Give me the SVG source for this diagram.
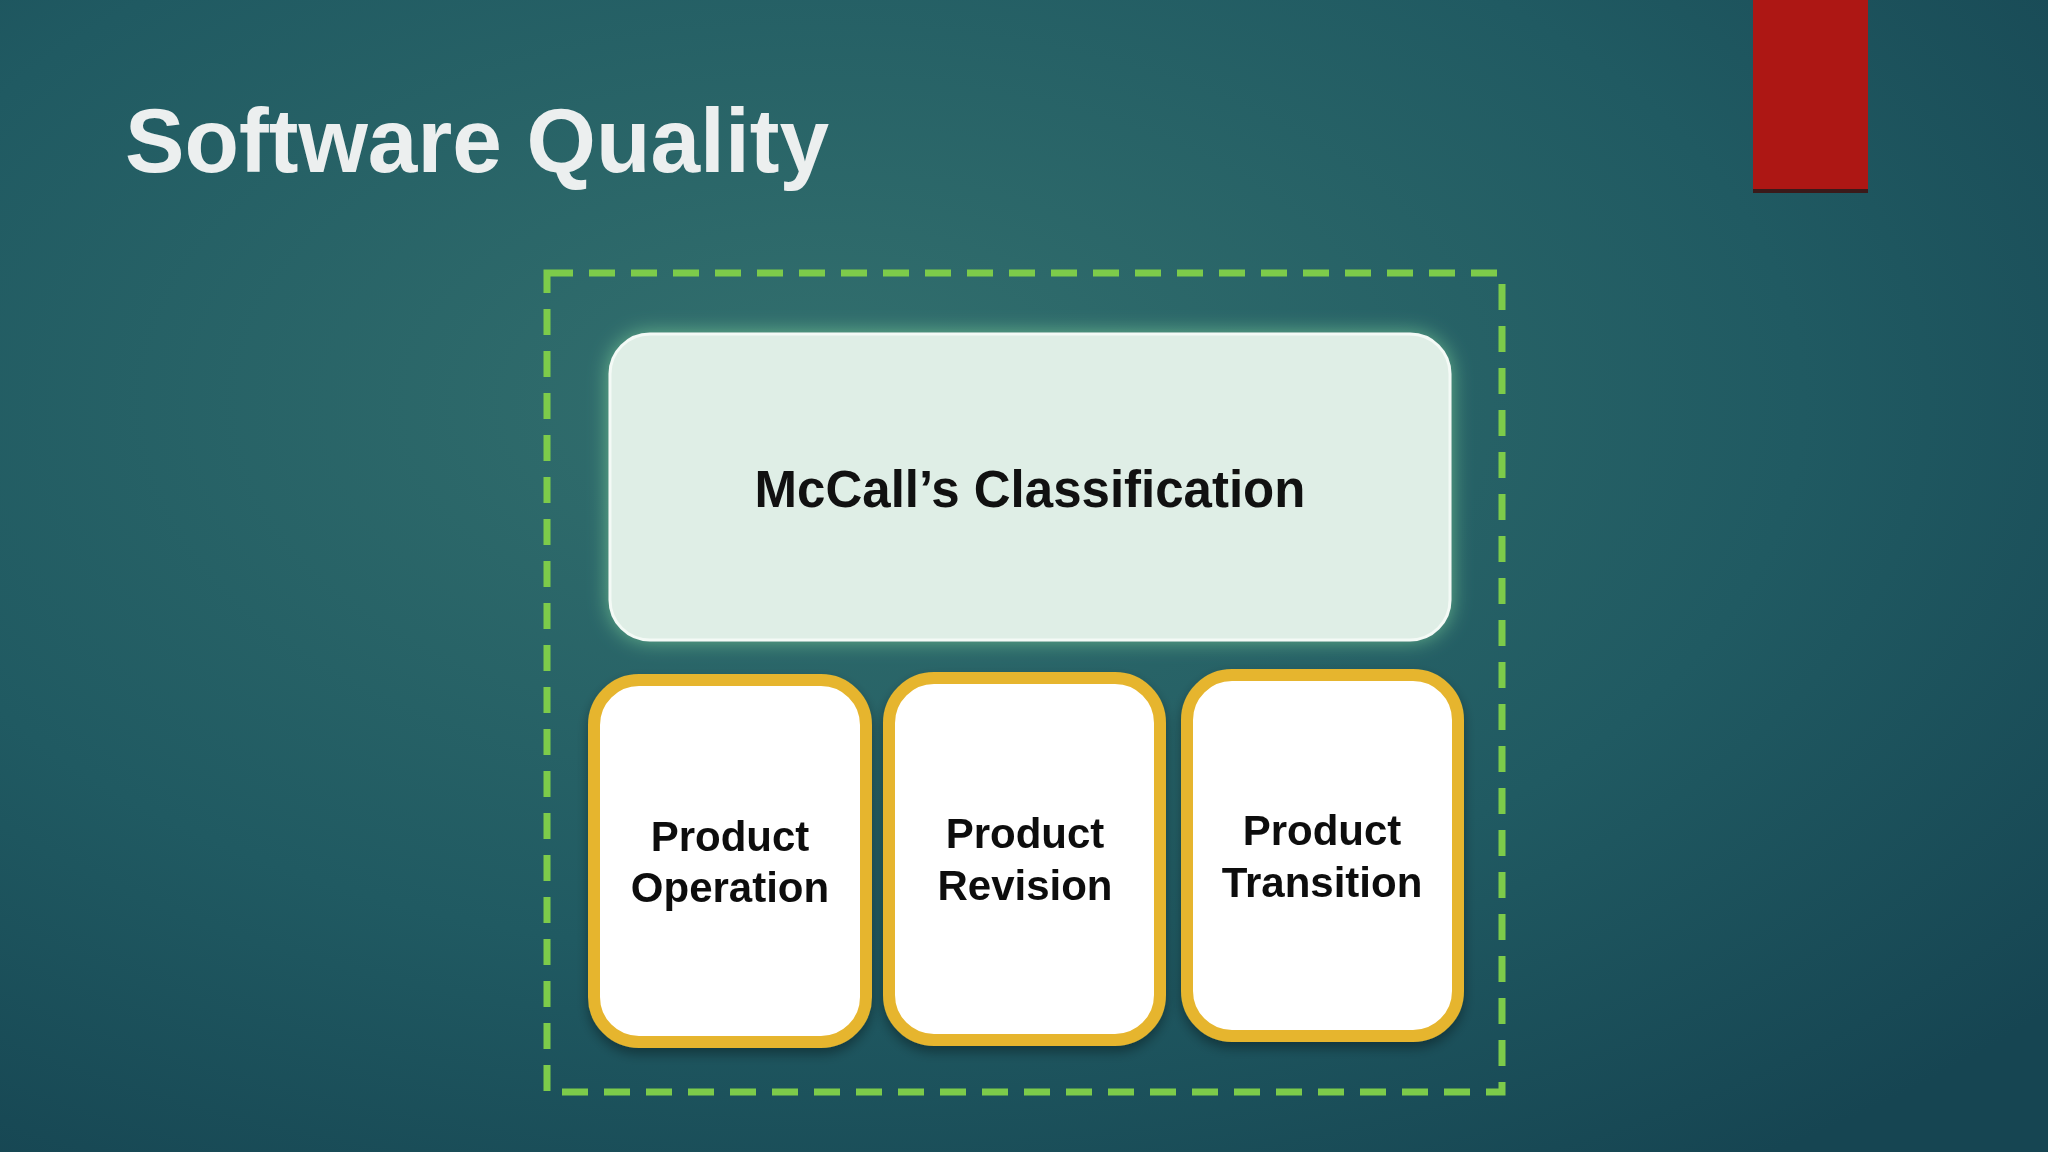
<svg xmlns="http://www.w3.org/2000/svg" width="2048" height="1152" viewBox="0 0 2048 1152">
<defs>
<radialGradient id="bg" cx="0.4" cy="0.35" r="0.8">
<stop offset="0" stop-color="#33706e"/>
<stop offset="0.6" stop-color="#205a62"/>
<stop offset="1" stop-color="#164552"/>
</radialGradient>
<filter id="glow" x="-10%" y="-15%" width="120%" height="130%">
<feGaussianBlur in="SourceAlpha" stdDeviation="10" result="b"/>
<feFlood flood-color="#7fd39a" flood-opacity="0.7"/>
<feComposite in2="b" operator="in"/>
<feMerge><feMergeNode/><feMergeNode in="SourceGraphic"/></feMerge>
</filter>
<filter id="sh" x="-10%" y="-10%" width="120%" height="130%">
<feDropShadow dx="0" dy="6" stdDeviation="6" flood-color="#000" flood-opacity="0.35"/>
</filter>
</defs>
<style>
.t{font-family:"Liberation Sans",Arial,sans-serif;font-weight:bold;fill:#111;text-anchor:middle}
.sub{fill:#fff;stroke:#e6b52e;stroke-width:12}
</style>
<rect width="2048" height="1152" fill="url(#bg)"/>
<rect x="1753" y="0" width="115" height="192" fill="#ad1714"/>
<rect x="1753" y="189" width="115" height="4" fill="#3a1a1a"/>
<text x="125" y="172" font-family="Liberation Sans,Arial,sans-serif" font-weight="bold" font-size="90" fill="#ecefef" textLength="704" lengthAdjust="spacingAndGlyphs">Software Quality</text>
<g id="frame"><rect x="547" y="273" width="955" height="819" fill="none" stroke="#7dcb4a" stroke-width="7" stroke-dasharray="26 16"/></g>
<g id="mccall"><rect x="610" y="334" width="840" height="306" rx="40" fill="#dfeee6" stroke="#f4faf6" stroke-width="3" filter="url(#glow)"/>
<text class="t" x="1030" y="507" font-size="51">McCall’s Classification</text></g>
<g id="op" filter="url(#sh)"><rect class="sub" x="594" y="680" width="272" height="362" rx="45"/>
<text class="t" x="730" y="851" font-size="42">Product</text><text class="t" x="730" y="902" font-size="42">Operation</text></g>
<g id="rev" filter="url(#sh)"><rect class="sub" x="889" y="678" width="271" height="362" rx="45"/>
<text class="t" x="1025" y="848" font-size="42">Product</text><text class="t" x="1025" y="900" font-size="42">Revision</text></g>
<g id="tr" filter="url(#sh)"><rect class="sub" x="1187" y="675" width="271" height="361" rx="45"/>
<text class="t" x="1322" y="845" font-size="42">Product</text><text class="t" x="1322" y="897" font-size="42">Transition</text></g>
<g id="connectors"/>
</svg>
